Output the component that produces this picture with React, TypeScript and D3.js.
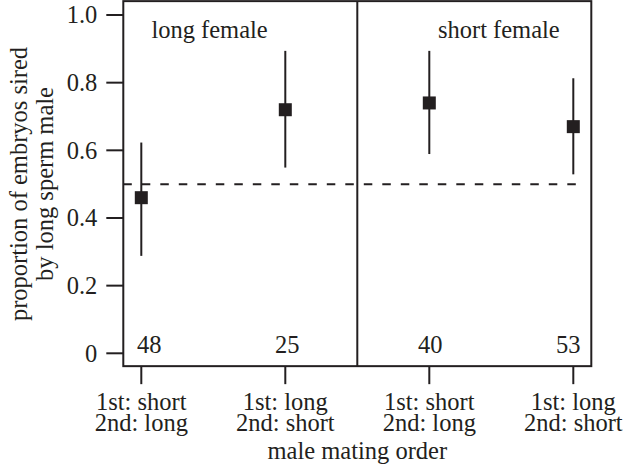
import React from "react";
import * as d3 from "d3";

const categories = ["1st: short|2nd: long", "1st: long|2nd: short", "1st: short|2nd: long", "1st: long|2nd: short"];
const means = [0.46, 0.72, 0.74, 0.67];
const lower = [0.288, 0.549, 0.589, 0.529];
const upper = [0.623, 0.894, 0.894, 0.813];
const counts = ["48", "25", "40", "53"];
const countNudge = [8, 2, 1, -5];
const panels = ["long female", "short female"];
const yTicks = [0, 0.2, 0.4, 0.6, 0.8, 1.0];
const yTickLabels = ["0", "0.2", "0.4", "0.6", "0.8", "1.0"];
const reference = 0.5;

const W = 624;
const H = 473;
const INK = "#231f20";
const FONT = "'Liberation Serif', 'Times New Roman', serif";
const FS = 24.5;

export default function App() {
  const x = d3.scaleLinear().domain([0.875, 4.125]).range([123.3, 591.3]);
  const y = d3.scaleLinear().domain([0, 1]).range([353.3, 15]);
  const top = y(1.041);
  const bottom = y(-0.038);
  const left = x(0.875);
  const right = x(4.125);
  const divider = x(2.5);
  const sq = 13;

  return (
    <svg width={W} height={H} style={{ position: "absolute", left: 0, top: 0, background: "#fff" }}
      fontFamily={FONT} fill={INK}>
      {/* frame */}
      <rect x={left} y={top} width={right - left} height={bottom - top} fill="none" stroke={INK} strokeWidth={2} />
      <line x1={divider} x2={divider} y1={top} y2={bottom} stroke={INK} strokeWidth={2} />
      {/* reference line */}
      <line x1={left} x2={x(4.05)} y1={y(reference)} y2={y(reference)} stroke={INK} strokeWidth={2}
        strokeDasharray="8.5,10" />
      {/* y axis ticks */}
      {yTicks.map((t, i) => (
        <g key={"yt" + i}>
          <line x1={left - 17} x2={left} y1={y(t)} y2={y(t)} stroke={INK} strokeWidth={2} />
          <text x={left - 26} y={y(t)} dy="0.34em" textAnchor="end" fontSize={FS}>{yTickLabels[i]}</text>
        </g>
      ))}
      {/* y label */}
      <g transform={`translate(26.5,184) rotate(-90)`}>
        <text x={0} y={0} textAnchor="middle" fontSize={FS}>proportion of embryos sired</text>
        <text x={0} y={26.5} textAnchor="middle" fontSize={FS}>by long sperm male</text>
      </g>
      {/* x axis ticks */}
      {categories.map((c, i) => {
        const cx = x(i + 1);
        const [l1, l2] = c.split("|");
        return (
          <g key={"xt" + i}>
            <line x1={cx} x2={cx} y1={bottom} y2={bottom + 18} stroke={INK} strokeWidth={2} />
            <text x={cx} y={409.5} textAnchor="middle" fontSize={FS}>{l1}</text>
            <text x={cx} y={430.7} textAnchor="middle" fontSize={FS}>{l2}</text>
          </g>
        );
      })}
      <text x={divider} y={458.5} textAnchor="middle" fontSize={FS}>male mating order</text>
      {/* panel labels */}
      <text x={x(1.07)} y={38} fontSize={FS}>{panels[0]}</text>
      <text x={x(3.06)} y={38} fontSize={FS}>{panels[1]}</text>
      {/* counts */}
      {counts.map((n, i) => (
        <text key={"n" + i} x={x(i + 1) + countNudge[i]} y={y(0)} textAnchor="middle" fontSize={FS}>{n}</text>
      ))}
      {/* error bars and points */}
      {means.map((m, i) => {
        const cx = x(i + 1);
        return (
          <g key={"p" + i}>
            <line x1={cx} x2={cx} y1={y(lower[i])} y2={y(upper[i])} stroke={INK} strokeWidth={2} />
            <rect x={cx - sq / 2} y={y(m) - sq / 2} width={sq} height={sq} fill={INK} />
          </g>
        );
      })}
    </svg>
  );
}
